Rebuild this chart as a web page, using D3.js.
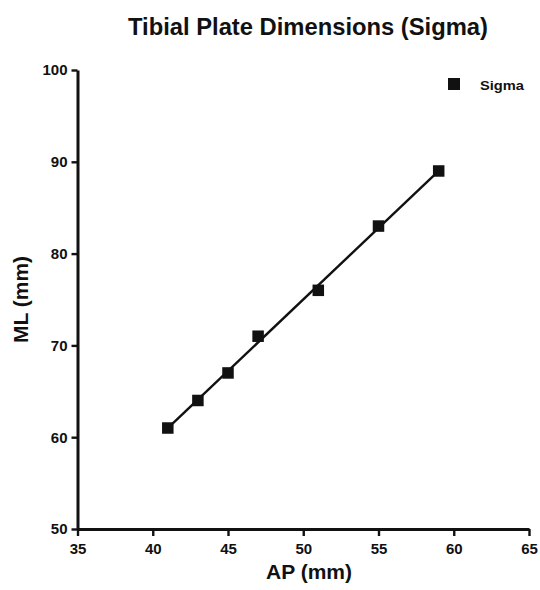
<!DOCTYPE html>
<html>
<head>
<meta charset="utf-8">
<script src="https://cdn.jsdelivr.net/npm/d3@7"></script>
<style>
  html, body { margin: 0; padding: 0; background: #ffffff; }
  svg { display: block; }
  text { font-family: "Liberation Sans", Arial, sans-serif; font-weight: bold; fill: #111; }
</style>
</head>
<body>
<svg id="chart" width="540" height="590"></svg>
<script>
// ---- data ----
const apValues = [41, 43, 45, 47, 51, 55, 59];
const mlValues = [61, 64, 67, 71, 76, 83, 89];
const xTicks = [35, 40, 45, 50, 55, 60, 65];
const yTicks = [50, 60, 70, 80, 90, 100];
const seriesName = "Sigma";
const titleText = "Tibial Plate Dimensions (Sigma)";
const xLabel = "AP (mm)";
const yLabel = "ML (mm)";

const svg = d3.select("#chart");
const plotLeft = 77.5, plotRight = 529, plotTop = 70, plotBottom = 529;

const x = d3.scaleLinear().domain([35, 65]).range([plotLeft, plotRight]);
const y = d3.scaleLinear().domain([50, 100]).range([plotBottom, plotTop]);

// title
svg.append("text")
  .attr("x", 308).attr("y", 35)
  .attr("text-anchor", "middle")
  .attr("font-size", 24)
  .attr("textLength", 360).attr("lengthAdjust", "spacingAndGlyphs")
  .text(titleText);

// axes
const xAxis = svg.append("g")
  .attr("transform", `translate(0,${plotBottom})`)
  .call(d3.axisBottom(x).tickValues(xTicks).tickSize(7).tickSizeOuter(0).tickPadding(7));
const yAxis = svg.append("g")
  .attr("transform", `translate(${plotLeft},0)`)
  .call(d3.axisLeft(y).tickValues(yTicks).tickSize(6).tickSizeOuter(0).tickPadding(4));

[xAxis, yAxis].forEach(g => {
  g.select(".domain").attr("stroke", "#111").attr("stroke-width", 3);
  g.selectAll(".tick line").attr("stroke", "#111").attr("stroke-width", 2.4);
  g.selectAll(".tick text").attr("font-size", 15).attr("fill", "#111")
    .attr("font-family", "'Liberation Sans', Arial, sans-serif").attr("font-weight", "bold");
});

// axis titles
svg.append("text")
  .attr("x", 309).attr("y", 579)
  .attr("text-anchor", "middle")
  .attr("font-size", 21)
  .text(xLabel);
svg.append("text")
  .attr("transform", `translate(28,${(plotTop + plotBottom) / 2}) rotate(-90)`)
  .attr("text-anchor", "middle")
  .attr("font-size", 21)
  .text(yLabel);

// linear regression line
const mx = d3.mean(apValues), my = d3.mean(mlValues);
const slope = d3.sum(apValues, (v, i) => (v - mx) * (mlValues[i] - my)) /
              d3.sum(apValues, v => (v - mx) * (v - mx));
const intercept = my - slope * mx;
const xr = d3.extent(apValues);
svg.append("path")
  .datum(xr.map(v => [v, intercept + slope * v]))
  .attr("d", d3.line().x(d => x(d[0])).y(d => y(d[1])))
  .attr("stroke", "#111").attr("stroke-width", 2.4).attr("fill", "none");

// points
const size = 11.5;
svg.append("g").selectAll("rect")
  .data(apValues.map((v, i) => [v, mlValues[i]]))
  .join("rect")
  .attr("x", d => x(d[0]) - size / 2)
  .attr("y", d => y(d[1]) - size / 2)
  .attr("width", size).attr("height", size)
  .attr("fill", "#111");

// legend
svg.append("rect")
  .attr("x", 448).attr("y", 78).attr("width", 12).attr("height", 12)
  .attr("fill", "#111");
svg.append("text")
  .attr("x", 480).attr("y", 89.5)
  .attr("font-size", 13)
  .attr("textLength", 44).attr("lengthAdjust", "spacingAndGlyphs")
  .text(seriesName);
</script>
</body>
</html>
